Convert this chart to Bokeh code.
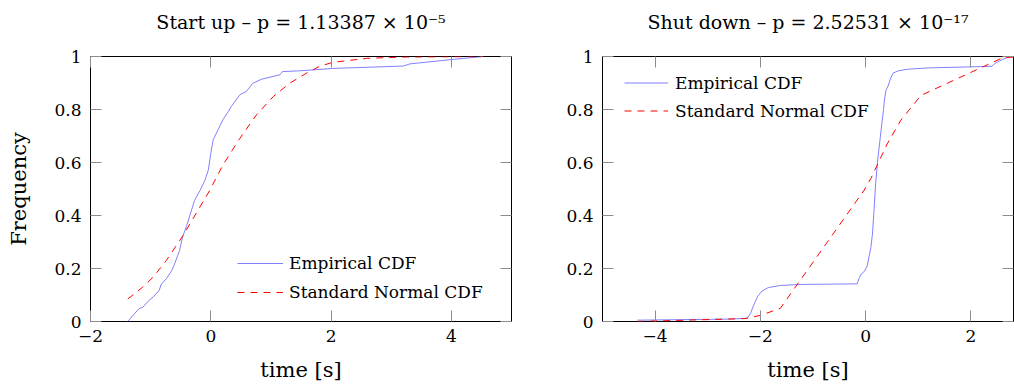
from bokeh.plotting import figure
from bokeh.models import LinearAxis, FixedTicker, Range1d, Legend, LegendItem
from bokeh.layouts import row
from bokeh.embed import file_html
from bokeh.resources import INLINE

# ---- data: Start up ----
su_emp_x = [-1.38, -1.31, -1.19, -1.13, -1.04, -0.96, -0.86, -0.82, -0.74, -0.65, -0.60, -0.52,
            -0.47, -0.40, -0.34, -0.27, -0.18, -0.10, -0.04, 0.0, 0.04, 0.12, 0.20, 0.29, 0.34,
            0.48, 0.59, 0.70, 0.84, 1.15, 1.19, 1.48, 2.03, 3.20, 3.31, 3.98, 4.53]
su_emp_y = [0.0, 0.019, 0.049, 0.054, 0.077, 0.092, 0.117, 0.142, 0.161, 0.192, 0.218, 0.268,
            0.318, 0.362, 0.406, 0.457, 0.494, 0.532, 0.572, 0.635, 0.686, 0.723, 0.761, 0.792, 0.811,
            0.855, 0.868, 0.899, 0.914, 0.931, 0.943, 0.946, 0.955, 0.964, 0.972, 0.988, 1.0]
su_norm_x = [-1.38, -1.13, -0.96, -0.74, -0.46, -0.29, -0.02, 0.2, 0.48, 0.76, 1.04, 1.31, 1.59,
             1.81, 2.03, 2.59, 3.2, 4.53]
su_norm_y = [0.085, 0.13, 0.167, 0.23, 0.325, 0.39, 0.494, 0.59, 0.69, 0.78, 0.849, 0.899, 0.937,
             0.963, 0.978, 0.993, 0.998, 1.0]

# ---- data: Shut down ----
sd_emp_x = [-4.34, -3.5, -2.6, -2.25, -2.19, -2.12, -2.05, -1.97, -1.85, -1.62, -1.2, -0.16, -0.12,
            -0.08, -0.02, 0.03, 0.07, 0.10, 0.13, 0.16, 0.19, 0.23, 0.27, 0.31, 0.34, 0.36, 0.39,
            0.42, 0.47, 0.52, 0.62, 0.80, 1.2, 2.0, 2.40, 2.45, 2.55, 2.65, 2.75, 2.82]
sd_emp_y = [0.005, 0.007, 0.009, 0.012, 0.03, 0.065, 0.095, 0.115, 0.128, 0.136, 0.14, 0.142, 0.165,
            0.18, 0.19, 0.21, 0.25, 0.28, 0.33, 0.42, 0.52, 0.61, 0.68, 0.75, 0.80, 0.84, 0.875,
            0.885, 0.915, 0.937, 0.946, 0.952, 0.957, 0.961, 0.963, 0.973, 0.984, 0.993, 0.999, 1.0]
sd_norm_x = [-4.34, -2.3, -2.0, -1.62, -0.03, 0.10, 0.22, 0.41, 0.67, 1.05, 2.6, 2.82]
sd_norm_y = [0.0, 0.011, 0.023, 0.05, 0.495, 0.54, 0.59, 0.67, 0.76, 0.853, 0.995, 0.998]

y_ticks = [0, 0.2, 0.4, 0.6, 0.8, 1]
y_tick_labels = ["0", "0.2", "0.4", "0.6", "0.8", "1"]
su_x_ticks = [-2, 0, 2, 4]
su_x_tick_labels = ["\u22122", "0", "2", "4"]
sd_x_ticks = [-4, -2, 0, 2]
sd_x_tick_labels = ["\u22124", "\u22122", "0", "2"]

FONT = "DejaVu Serif"
TICK_COLOR = "#8c8c8c"
EMP_COLOR = "#8080ff"
NORM_COLOR = "#ff0000"


def style_axis(ax, ticks, labels, show_labels=True):
    ax.ticker = FixedTicker(ticks=ticks)
    ax.minor_tick_line_color = None
    ax.major_tick_in = 11
    ax.major_tick_out = 0
    ax.major_tick_line_color = TICK_COLOR
    ax.major_tick_line_width = 1
    ax.axis_line_color = None
    if show_labels:
        ax.major_label_overrides = {t: l for t, l in zip(ticks, labels)}
        ax.major_label_text_font = FONT
        ax.major_label_text_font_size = "17px"
        ax.major_label_text_color = "black"
    else:
        ax.major_label_overrides = {t: "" for t in ticks}
        ax.major_label_text_font_size = "0px"
        ax.major_label_standoff = 0


def make_fig(width, mleft, mright, xr, xticks, xlabels, title, ylabel,
             ex, ey, nx, ny, leg_loc, leg_spacing, glyph_w, glyph_h, standoff):
    p = figure(width=width, height=385, x_range=Range1d(*xr), y_range=Range1d(0, 1),
               output_backend="svg", toolbar_location=None, title_location=None,
               min_border_left=mleft, min_border_right=mright,
               min_border_top=56, min_border_bottom=64)
    p.background_fill_color = "white"
    p.border_fill_color = "white"
    p.outline_line_color = "black"
    p.outline_line_width = 1
    p.grid.visible = False

    style_axis(p.xaxis[0], xticks, xlabels)
    p.xaxis[0].major_label_standoff = 8
    p.xaxis[0].axis_label = "time [s]"
    p.xaxis[0].axis_label_text_font = FONT
    p.xaxis[0].axis_label_text_font_size = "21px"
    p.xaxis[0].axis_label_text_font_style = "normal"
    p.xaxis[0].axis_label_text_color = "black"
    p.xaxis[0].axis_label_standoff = 13

    style_axis(p.yaxis[0], y_ticks, y_tick_labels)
    p.yaxis[0].major_label_standoff = 9
    if ylabel:
        p.yaxis[0].axis_label = ylabel
        p.yaxis[0].axis_label_text_font = FONT
        p.yaxis[0].axis_label_text_font_size = "21px"
        p.yaxis[0].axis_label_text_font_style = "normal"
        p.yaxis[0].axis_label_text_color = "black"
        p.yaxis[0].axis_label_standoff = 20

    # top axis: ticks only, carries the panel title as its label
    top = LinearAxis()
    style_axis(top, xticks, xlabels, show_labels=False)
    top.axis_label = title
    top.axis_label_text_font = FONT
    top.axis_label_text_font_size = "19px"
    top.axis_label_text_font_style = "normal"
    top.axis_label_text_color = "black"
    top.axis_label_standoff = 24
    p.add_layout(top, "above")
    right = LinearAxis()
    style_axis(right, y_ticks, y_tick_labels, show_labels=False)
    p.add_layout(right, "right")

    r_emp = p.line(ex, ey, line_color=EMP_COLOR, line_width=1)
    r_norm = p.line(nx, ny, line_color=NORM_COLOR, line_width=1, line_dash="7 6")

    leg = Legend(items=[LegendItem(label="Empirical CDF", renderers=[r_emp]),
                        LegendItem(label="Standard Normal CDF", renderers=[r_norm])],
                 location=leg_loc)
    leg.label_text_font = FONT
    leg.label_text_font_size = "17px"
    leg.label_text_color = "black"
    leg.label_height = glyph_h
    leg.glyph_height = glyph_h
    leg.glyph_width = glyph_w
    leg.label_standoff = standoff
    leg.spacing = leg_spacing
    leg.padding = 0
    leg.margin = 0
    leg.border_line_color = None
    leg.background_fill_alpha = 0
    p.add_layout(leg)
    return p


p1 = make_fig(520, 90, 9, (-2, 5), su_x_ticks, su_x_tick_labels,
              "Start up \u2013 p = 1.13387 \u00d7 10\u207b\u2075", "Frequency",
              su_emp_x, su_emp_y, su_norm_x, su_norm_y, (147, 19), 9, 46, 20, 6)
p2 = make_fig(494, 82, 1, (-5, 2.81), sd_x_ticks, sd_x_tick_labels,
              "Shut down \u2013 p = 2.52531 \u00d7 10\u207b\u00b9\u2077", None,
              sd_emp_x, sd_emp_y, sd_norm_x, sd_norm_y, (22, 200), 7, 44, 21, 7)

layout = row(p1, p2)
open("out.html", "w").write(file_html(layout, INLINE))
